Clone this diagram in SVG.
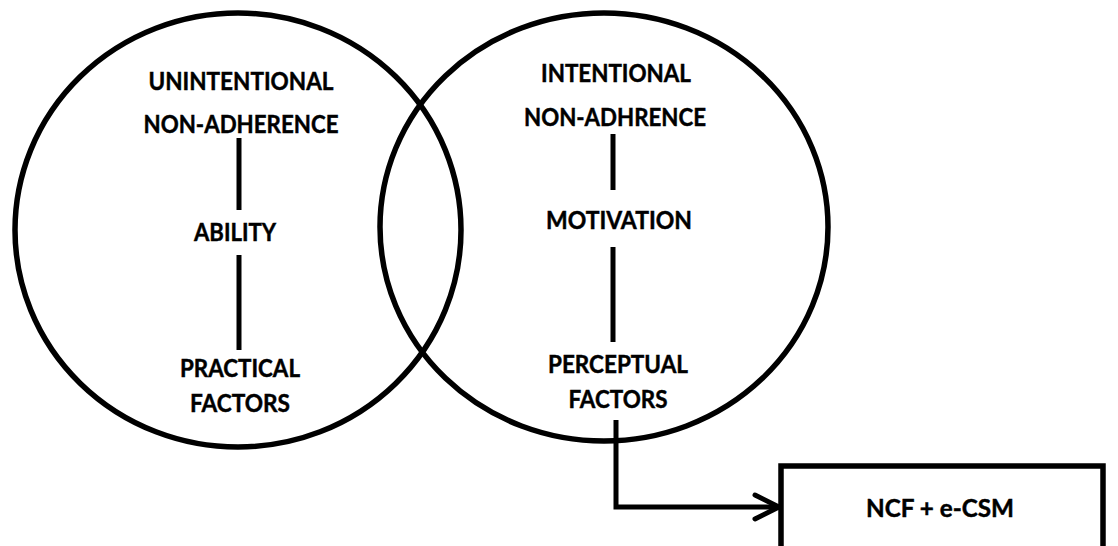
<svg xmlns="http://www.w3.org/2000/svg" width="1118" height="546" viewBox="0 0 1118 546">
  <defs>
    <style>
      .ring { fill: none; stroke: #000; stroke-width: 5.5; }
      .link { fill: none; stroke: #000; stroke-width: 5; }
      .box { fill: #fff; stroke: #000; stroke-width: 5.5; }
      .lbl { font-family: Lato, "Open Sans", "Liberation Sans", sans-serif; font-weight: bold; font-size: 24px; fill: #000; stroke: #000; stroke-width: 0.45; text-anchor: middle; }
    </style>
    <marker id="chevron" viewBox="0 0 30 30" refX="27" refY="15" markerWidth="30" markerHeight="30" markerUnits="userSpaceOnUse" orient="auto">
      <path d="M3,3 L27,15 L3,27" fill="none" stroke="#000" stroke-width="5" stroke-linecap="round" stroke-linejoin="miter"/>
    </marker>
  </defs>

  <rect width="1118" height="546" fill="#fff"/>

  <!-- Unintentional non-adherence -->
  <g id="unintentional">
    <ellipse class="ring" cx="238" cy="230" rx="223" ry="217"/>
    <text class="lbl" x="241" y="90" textLength="185" lengthAdjust="spacingAndGlyphs">UNINTENTIONAL</text>
    <text class="lbl" x="241" y="133" textLength="195" lengthAdjust="spacingAndGlyphs">NON-ADHERENCE</text>
  </g>
  <g id="ability">
    <text class="lbl" x="235" y="241" textLength="82" lengthAdjust="spacingAndGlyphs">ABILITY</text>
  </g>
  <g id="practical-factors">
    <text class="lbl" x="240" y="377" textLength="120" lengthAdjust="spacingAndGlyphs">PRACTICAL</text>
    <text class="lbl" x="240" y="412" textLength="100" lengthAdjust="spacingAndGlyphs">FACTORS</text>
  </g>

  <!-- Intentional non-adherence -->
  <g id="intentional">
    <ellipse class="ring" cx="604" cy="227" rx="224" ry="214"/>
    <text class="lbl" x="616" y="82" textLength="150" lengthAdjust="spacingAndGlyphs">INTENTIONAL</text>
    <text class="lbl" x="615" y="126" textLength="182" lengthAdjust="spacingAndGlyphs">NON-ADHRENCE</text>
  </g>
  <g id="motivation">
    <text class="lbl" x="619" y="229" textLength="146" lengthAdjust="spacingAndGlyphs">MOTIVATION</text>
  </g>
  <g id="perceptual-factors">
    <text class="lbl" x="618" y="373" textLength="140" lengthAdjust="spacingAndGlyphs">PERCEPTUAL</text>
    <text class="lbl" x="618" y="408" textLength="99" lengthAdjust="spacingAndGlyphs">FACTORS</text>
  </g>

  <!-- Intervention -->
  <g id="ncf-ecsm">
    <rect class="box" x="781" y="466" width="322" height="100"/>
    <text class="lbl" x="940" y="517" textLength="148" lengthAdjust="spacingAndGlyphs">NCF + e-CSM</text>
  </g>

  <!-- Connectors -->
  <g id="connectors">
    <line class="link" x1="239" y1="138" x2="239" y2="210"/>
    <line class="link" x1="239" y1="255" x2="239" y2="350"/>
    <line class="link" x1="613" y1="134" x2="613" y2="190"/>
    <line class="link" x1="613" y1="247" x2="613" y2="342"/>
    <path class="link" d="M616,420 V507 H779" marker-end="url(#chevron)"/>
  </g>
</svg>
